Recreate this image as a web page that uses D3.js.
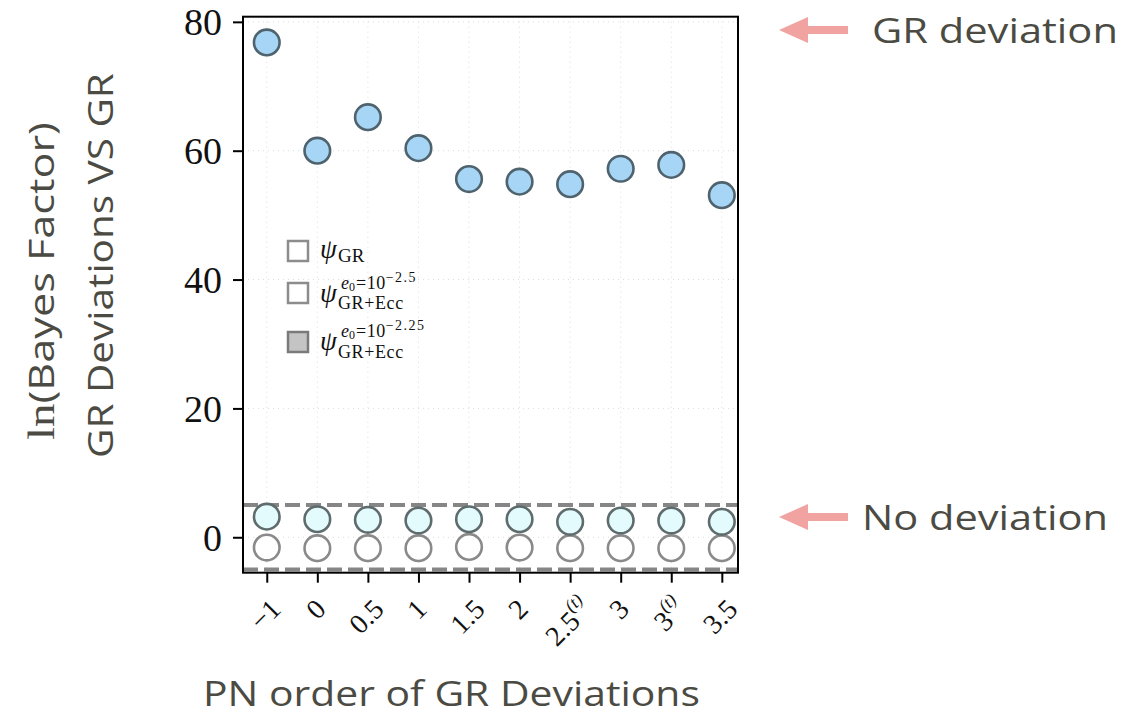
<!DOCTYPE html>
<html>
<head>
<meta charset="utf-8">
<script src="https://cdn.jsdelivr.net/npm/d3@7"></script>
<style>
  body { margin: 0; background: #fff; }
  svg { display: block; }
</style>
</head>
<body>
<div id="chart"></div>
<script>
// PN orders on the x axis (sup = superscript part of the label)
var pnOrders = [
  { base: "\u22121", sup: null },
  { base: "0", sup: null },
  { base: "0.5", sup: null },
  { base: "1", sup: null },
  { base: "1.5", sup: null },
  { base: "2", sup: null },
  { base: "2.5", sup: "(t)" },
  { base: "3", sup: null },
  { base: "3", sup: "(t)" },
  { base: "3.5", sup: null }
];

// ln(Bayes factor)
var devValues  = [76.8, 60.0, 65.2, 60.4, 55.6, 55.2, 54.8, 57.2, 57.8, 53.1];
var eccValues  = [3.2, 2.8, 2.7, 2.6, 2.8, 2.8, 2.4, 2.6, 2.6, 2.4];
var grValues   = [-1.6, -1.7, -1.7, -1.7, -1.5, -1.6, -1.7, -1.7, -1.7, -1.7];

var yTicks = [0, 20, 40, 60, 80];
var bandLimits = [5, -5];

(function() {
  var W = 1129, H = 717;
  var left = 243, right = 738, top = 16.7, bottom = 572.7;

  var svg = d3.select("#chart").append("svg")
      .attr("width", W)
      .attr("height", H);

  var x = d3.scaleLinear()
    .domain([-0.47, pnOrders.length - 1 + 0.32])
    .range([left, right]);

  var y = d3.scaleLinear()
    .domain([-5.5, 80.8])
    .range([bottom, top]);

  var sansCol = "#4b4b43";
  var sans = "'Open Sans', sans-serif";
  var serif = "'Liberation Serif', serif";

  // stretch a text along its own direction so it spans `len` px
  function fit(t, tx, ty, rot, len) {
    var L = t.node().getComputedTextLength();
    t.attr("transform", "translate(" + tx + "," + ty + ")" + (rot ? " rotate(" + rot + ")" : "") +
      " scale(" + (len / L) + ",1)");
  }

  // faint dotted grid
  var grid = svg.append("g");
  grid.selectAll(".gx")
    .data(pnOrders)
    .enter().append("line")
      .attr("x1", function(d, i) { return x(i) })
      .attr("x2", function(d, i) { return x(i) })
      .attr("y1", top)
      .attr("y2", bottom)
      .attr("stroke", "#d8dde0")
      .attr("stroke-width", 1)
      .attr("stroke-dasharray", "1,4");
  grid.selectAll(".gy")
    .data(yTicks)
    .enter().append("line")
      .attr("x1", left)
      .attr("x2", right)
      .attr("y1", function(d) { return y(d) })
      .attr("y2", function(d) { return y(d) })
      .attr("stroke", "#d8dde0")
      .attr("stroke-width", 1)
      .attr("stroke-dasharray", "1,4");

  // dashed band
  svg.selectAll(".band")
    .data(bandLimits)
    .enter().append("line")
      .attr("x1", left)
      .attr("x2", right)
      .attr("y1", function(d) { return y(d) })
      .attr("y2", function(d) { return y(d) })
      .attr("stroke", "#868686")
      .attr("stroke-width", 4)
      .attr("stroke-dasharray", "15,6");

  // y axis
  var yAxis = svg.append("g")
    .attr("transform", "translate(" + left + ",0)")
    .call(d3.axisLeft(y).tickValues(yTicks).tickSize(10).tickPadding(11));
  yAxis.select(".domain").remove();
  yAxis.selectAll(".tick line").attr("stroke", "#000").attr("stroke-width", 2);
  yAxis.selectAll(".tick text")
    .attr("font-family", serif)
    .attr("font-size", "38px")
    .attr("dy", "0.34em")
    .attr("fill", "#111");

  // x axis ticks
  var xAxis = svg.append("g")
    .attr("transform", "translate(0," + bottom + ")")
    .call(d3.axisBottom(x).tickValues(d3.range(pnOrders.length)).tickSize(10).tickFormat(""));
  xAxis.select(".domain").remove();
  xAxis.selectAll(".tick line").attr("stroke", "#000").attr("stroke-width", 2);

  // rotated x labels, bbox centred under tick
  pnOrders.forEach(function(d, i) {
    var t = svg.append("text")
      .attr("font-family", serif)
      .attr("font-size", "28px")
      .attr("fill", "#111")
      .attr("text-anchor", "middle")
      .attr("dominant-baseline", "central");
    t.append("tspan").text(d.base);
    if (d.sup) {
      t.append("tspan")
        .attr("font-size", "18px")
        .attr("dy", "-0.55em")
        .attr("font-style", "italic")
        .text(d.sup);
    }
    var b = t.node().getBBox();
    var hh = (b.width + 19) * Math.SQRT1_2;
    t.attr("transform", "translate(" + (x(i) - 2) + "," + (597 + hh / 2) + ") rotate(-45)");
  });

  // frame
  svg.append("rect")
    .attr("x", left)
    .attr("y", top)
    .attr("width", right - left)
    .attr("height", bottom - top)
    .attr("fill", "none")
    .attr("stroke", "#000")
    .attr("stroke-width", 2);

  // points
  function dots(values, fill, stroke) {
    svg.append("g").selectAll("circle")
      .data(values)
      .enter().append("circle")
        .attr("cx", function(d, i) { return x(i) })
        .attr("cy", function(d) { return y(d) })
        .attr("r", 12.8)
        .attr("fill", fill)
        .attr("stroke", stroke)
        .attr("stroke-width", 2.6);
  }
  dots(grValues, "#ffffff", "#8a8a8a");
  dots(eccValues, "#e4fbfe", "#5f6c6e");
  dots(devValues, "#a6d5f5", "#4e636d");

  // legend (one text element per row, sub/sup placed with absolute x/y)
  var legendRows = [
    { y: 251, fill: "#ffffff", stroke: "#8c8c8c", sup: null, sub: "GR", psi: 7, subY: 11 },
    { y: 293, fill: "#ffffff", stroke: "#8c8c8c", sup: "\u22122.5", sub: "GR+Ecc", psi: 9, subY: 16, supY: -4 },
    { y: 342, fill: "#c4c4c4", stroke: "#7a7a7a", sup: "\u22122.25", sub: "GR+Ecc", psi: 8, subY: 16, supY: -5 }
  ];
  legendRows.forEach(function(r) {
    svg.append("rect")
      .attr("x", 288)
      .attr("y", r.y - 10)
      .attr("width", 20)
      .attr("height", 20)
      .attr("fill", r.fill)
      .attr("stroke", r.stroke)
      .attr("stroke-width", 2.5);
    var t = svg.append("text")
      .attr("font-family", serif)
      .attr("fill", "#111")
      .attr("x", 320)
      .attr("y", r.y + r.psi);
    t.append("tspan")
      .attr("font-size", "27px")
      .attr("font-style", "italic")
      .text("\u03c8");
    if (r.sup) {
      t.append("tspan").attr("x", 341).attr("y", r.y + r.supY)
        .attr("font-size", "18px").attr("font-style", "italic").text("e");
      t.append("tspan").attr("y", r.y + r.supY + 2).attr("font-size", "12px").text("0");
      t.append("tspan").attr("y", r.y + r.supY).attr("dx", "1").attr("font-size", "18px")
        .attr("letter-spacing", "0.5px").text("=10");
      t.append("tspan").attr("y", r.y + r.supY - 7).attr("font-size", "14px")
        .attr("letter-spacing", "1.5px").text(r.sup);
    }
    t.append("tspan").attr("x", 338).attr("y", r.y + r.subY)
      .attr("font-size", r.sup ? "18px" : "19px")
      .attr("letter-spacing", r.sup ? "0.6px" : "0px")
      .text(r.sub);
  });

  // axis titles
  var xt = svg.append("text")
    .attr("font-family", sans)
    .attr("font-size", "34px")
    .attr("fill", sansCol)
    .text("PN order of GR Deviations");
  fit(xt, 203, 705.5, 0, 497);

  var yt1 = svg.append("text")
    .attr("font-size", "34px")
    .attr("fill", sansCol);
  yt1.append("tspan").attr("font-family", serif).attr("font-size", "37px").text("ln");
  yt1.append("tspan").attr("font-family", sans).text("(Bayes Factor)");
  fit(yt1, 54, 440, -90, 318);

  var yt2 = svg.append("text")
    .attr("font-family", sans)
    .attr("font-size", "34px")
    .attr("fill", sansCol)
    .text("GR Deviations VS GR");
  fit(yt2, 113, 458, -90, 385);

  // annotations
  var notes = [
    { label: "GR deviation", y: 30, tx: 872 },
    { label: "No deviation", y: 517, tx: 862 }
  ];
  notes.forEach(function(n) {
    svg.append("path")
      .attr("d", "M779," + n.y + " L808," + (n.y - 13) + " L808," + (n.y - 4) +
        " L848," + (n.y - 4) + " L848," + (n.y + 4) + " L808," + (n.y + 4) +
        " L808," + (n.y + 13) + " Z")
      .attr("fill", "#f0a3a0");
    var t = svg.append("text")
      .attr("font-family", sans)
      .attr("font-size", "34px")
      .attr("fill", sansCol)
      .text(n.label);
    fit(t, n.tx, n.y + 12.5, 0, 246);
  });
})();
</script>
</body>
</html>
